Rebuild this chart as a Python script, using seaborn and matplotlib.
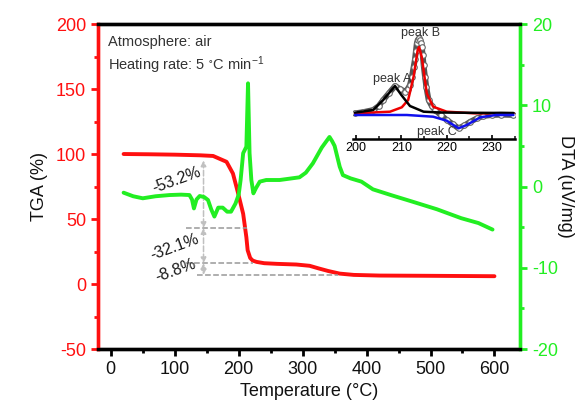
import numpy as np
import matplotlib
matplotlib.use('Agg')
import matplotlib.pyplot as plt
from matplotlib.ticker import MultipleLocator
import seaborn as sns

# Set the theme of plots
sns.set_theme(style='white')
plt.rcParams['font.family'] = ['Liberation Sans', 'DejaVu Sans']
plt.rcParams['axes.unicode_minus'] = False

# TGA curve (weight %)
tga_temp = [20, 60, 100, 140, 160, 181, 191, 199, 203, 207, 212, 214, 218, 222, 228,
            240, 260, 290, 311, 325, 340, 358, 380, 420, 500, 600]
tga_mass = [100, 99.8, 99.5, 99, 98.5, 94, 85, 70, 62, 54, 36, 26, 20, 18, 17,
            16, 15.5, 15, 14, 12, 10, 8, 7, 6.5, 6.3, 6]

# DTA curve (uV/mg)
dta_temp = [20, 35, 50, 70, 92, 110, 123, 127, 130, 134, 139, 146, 152, 157, 162, 168,
            175, 182, 188, 195, 200, 203, 207, 212, 214.6, 217, 219.8, 223, 227, 233,
            243, 264, 295, 305, 316, 330, 342, 346, 350, 358, 363, 375, 392, 410, 440,
            472, 510, 548, 575, 597]
dta_signal = [-0.76, -1.2, -1.45, -1.2, -1.05, -1.0, -1.05, -1.6, -2.7, -1.6, -1.17, -1.3,
              -1.66, -2.8, -3.7, -2.6, -2.6, -3.1, -3.1, -2.1, -1.0, 0.8, 4.1, 4.9, 12.7,
              4.1, 0.8, -0.84, -0.2, 0.6, 0.8, 0.8, 1.13, 1.7, 2.85, 4.8, 6.1, 5.6, 5.0,
              2.44, 1.4, 1.0, 0.6, -0.35, -1.1, -1.87, -2.8, -3.9, -4.5, -5.3]

# Mass loss steps
step_levels = [95, 43, 16, 7]
step_labels = ['-53.2%', '-32.1%', '-8.8%']

# Inset: peak deconvolution (arbitrary units)
exp_temp = [199.8, 201.5, 203.8, 205, 206, 207.3, 208.6, 209.7, 210.8, 211.4, 211.9,
            212.3, 212.7, 213.0, 213.2, 213.4, 213.6, 213.9, 214.1, 214.3, 214.5, 214.7,
            214.9, 215.2, 215.5, 216, 216.7, 217.4, 218.7, 220, 221.3, 222.6, 223.9,
            225.2, 226.6, 228.1, 230, 232, 234.7]
exp_signal = [25.7, 26.8, 29, 33, 39, 46, 53, 50, 47.3, 50, 54, 62, 72, 80, 88, 95.7,
              99, 100.7, 99, 96, 92.3, 84, 74, 62.3, 52, 39, 33, 29, 24, 19, 15, 10.7,
              13.5, 17.3, 20.5, 23, 24, 24.3, 24]
peak_a_temp = [199.8, 203.8, 206, 208.6, 210, 211.9, 214.9, 218.5, 225, 234.7]
peak_a_signal = [26.3, 29, 39, 53, 44, 33, 27.3, 26.5, 26.2, 26]
peak_b_temp = [199.8, 207.5, 210.1, 211.5, 212.7, 213.6, 213.9, 214.5, 215.6, 217, 220, 226, 234.7]
peak_b_signal = [25.7, 27.3, 31.7, 39, 62.3, 89, 92, 82, 45.7, 32.3, 27.3, 25.7, 25.7]
peak_c_temp = [199.8, 211.2, 217, 220, 222.6, 224.4, 227.4, 230.9, 234.7]
peak_c_signal = [24, 24, 22.3, 18.3, 10.7, 14, 21.7, 24, 24]

red = '#ff1010'
green = '#22ee22'

fig = plt.figure(figsize=(5.88, 4.07), dpi=100)
ax = fig.add_axes([0.1667, 0.1425, 0.7177, 0.7985])
ax2 = ax.twinx()

# TGA line
sns.lineplot(x=tga_temp, y=tga_mass, ax=ax, color=red, linewidth=2.8)
# DTA line
sns.lineplot(x=dta_temp, y=dta_signal, ax=ax2, color=green, linewidth=2.8)

ax.set_xlim(-20, 640)
ax.set_ylim(-50, 200)
ax2.set_ylim(-20, 20)

# Mass loss guides
ax.hlines(step_levels[1], 118, 213, colors='#999999', linestyles='--', linewidth=1.1)
ax.hlines(step_levels[2], 118, 222, colors='#999999', linestyles='--', linewidth=1.1)
ax.hlines(step_levels[3], 135, 355, colors='#999999', linestyles='--', linewidth=1.1)
for top, bottom in zip(step_levels[:-1], step_levels[1:]):
    ax.annotate('', xy=(145, bottom), xytext=(145, top),
                arrowprops=dict(arrowstyle='<|-|>', color='#c0c0c0', linestyle='--',
                                linewidth=1.1, shrinkA=0, shrinkB=0, mutation_scale=8))
label_pos = [(103, 80), (100, 28.5), (101.5, 10.7)]
for (tx, ty), lab in zip(label_pos, step_labels):
    ax.text(tx, ty, lab, rotation=20, fontsize=11.5, color='#1a1a1a', ha='center', va='center')

# Conditions text
ax.text(0.024, 0.945, 'Atmosphere: air', transform=ax.transAxes, fontsize=10.5,
        color='#333333', va='center')
ax.text(0.024, 0.874, 'Heating rate: 5 $\\mathregular{^{\\circ}C\\ min^{-1}}$', transform=ax.transAxes,
        fontsize=10.5, color='#333333', va='center')

# Axes styling
ax.set_xlabel('Temperature (\u00b0C)', fontsize=13, color='#111111')
ax.set_ylabel('TGA (%)', fontsize=13, color='#111111', labelpad=6)
ax2.set_ylabel('DTA (uV/mg)', fontsize=13, color='#111111', rotation=270, labelpad=12)

ax.xaxis.set_major_locator(MultipleLocator(100))
ax.xaxis.set_minor_locator(MultipleLocator(50))
ax.yaxis.set_major_locator(MultipleLocator(50))
ax.yaxis.set_minor_locator(MultipleLocator(25))
ax2.yaxis.set_major_locator(MultipleLocator(10))
ax2.yaxis.set_minor_locator(MultipleLocator(5))

for a in (ax, ax2):
    a.spines['top'].set_color('black')
    a.spines['bottom'].set_color('black')
    a.spines['left'].set_color(red)
    a.spines['right'].set_color(green)
    for s in a.spines.values():
        s.set_linewidth(2.4)

ax.tick_params(axis='x', which='major', direction='out', length=5, width=2, colors='black',
               labelsize=13, bottom=True, top=False, labelcolor='#111111')
ax.tick_params(axis='x', which='minor', direction='out', length=3, width=2, colors='black',
               bottom=True, top=False)
ax.tick_params(axis='y', which='major', direction='out', length=5, width=2, colors=red,
               labelsize=13, left=True)
ax.tick_params(axis='y', which='minor', direction='out', length=3, width=2, colors=red, left=True)
ax2.tick_params(axis='y', which='major', direction='out', length=5, width=2, colors=green,
                labelsize=13, right=True)
ax2.tick_params(axis='y', which='minor', direction='out', length=3, width=2, colors=green, right=True)

# Inset with peak deconvolution
axin = fig.add_axes([0.600, 0.6585, 0.2755, 0.2727])
axin.patch.set_alpha(0)
sns.lineplot(x=exp_temp, y=exp_signal, ax=axin, color='#555555', linewidth=4.2)
sns.scatterplot(x=exp_temp, y=exp_signal, ax=axin, marker='o', s=16, facecolor='white',
                edgecolor='#666666', linewidth=0.8, zorder=3)
sns.lineplot(x=peak_b_temp, y=peak_b_signal, ax=axin, color='#ee0000', linewidth=1.8, zorder=4)
sns.lineplot(x=peak_a_temp, y=peak_a_signal, ax=axin, color='black', linewidth=1.8, zorder=4)
sns.lineplot(x=peak_c_temp, y=peak_c_signal, ax=axin, color='#1010ee', linewidth=1.8, zorder=4)
axin.set_xlim(199.3, 235)
axin.set_ylim(0, 111)
axin.text(207.9, 60, 'peak A', fontsize=9, color='#333333', ha='center', va='center')
axin.text(214.3, 106, 'peak B', fontsize=9, color='#333333', ha='center', va='center')
axin.text(217.9, 7, 'peak C', fontsize=9, color='#333333', ha='center', va='center')
for side in ('left', 'right', 'top'):
    axin.spines[side].set_visible(False)
axin.spines['bottom'].set_color('black')
axin.spines['bottom'].set_linewidth(1.8)
axin.set_yticks([])
axin.xaxis.set_major_locator(MultipleLocator(10))
axin.xaxis.set_minor_locator(MultipleLocator(5))
axin.tick_params(axis='x', which='major', direction='in', length=3, width=1.2, labelsize=9,
                 bottom=True, colors='black', pad=2)
axin.tick_params(axis='x', which='minor', direction='in', length=2, width=1.2, bottom=True)

fig.savefig('out.png', dpi=100)
